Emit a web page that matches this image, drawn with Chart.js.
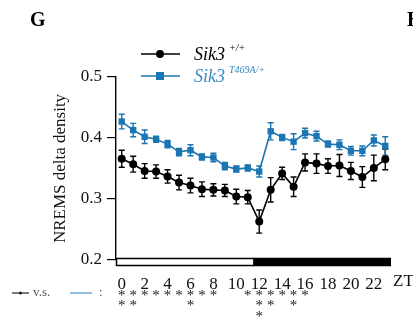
<!DOCTYPE html>
<html>
<head>
<meta charset="utf-8">
<script src="https://cdn.jsdelivr.net/npm/chart.js@4.4.1/dist/chart.umd.min.js"></script>
<style>
  html, body { margin: 0; padding: 0; background: #fff; }
  #wrap { width: 413px; height: 320px; position: relative; }
</style>
</head>
<body>
<div id="wrap"><canvas id="chart"></canvas></div>
<script>
// hourly bins (ZT), points sit at the middle of each bin
const hours = [0, 1, 2, 3, 4, 5, 6, 7, 8, 9, 10, 11, 12, 13, 14, 15, 16, 17, 18, 19, 20, 21, 22, 23]
const tickHours = [0, 2, 4, 6, 8, 10, 12, 14, 16, 18, 20, 22]
const yTicks = [0.2, 0.3, 0.4, 0.5]

const wtMean = [0.366, 0.357, 0.346, 0.345, 0.337, 0.327, 0.322, 0.316, 0.315, 0.314, 0.304, 0.303,
                0.263, 0.315, 0.342, 0.320, 0.360, 0.358, 0.354, 0.355, 0.346, 0.336, 0.351, 0.365]
const wtErr = [0.014, 0.013, 0.012, 0.011, 0.011, 0.012, 0.012, 0.012, 0.010, 0.010, 0.012, 0.011,
               0.019, 0.020, 0.010, 0.016, 0.014, 0.016, 0.012, 0.018, 0.014, 0.017, 0.021, 0.017]
const mutMean = [0.427, 0.413, 0.402, 0.398, 0.390, 0.377, 0.380, 0.369, 0.368, 0.354, 0.349, 0.351,
                 0.345, 0.411, 0.401, 0.394, 0.408, 0.403, 0.390, 0.389, 0.379, 0.379, 0.396, 0.387]
const mutErr = [0.012, 0.011, 0.011, 0.005, 0.006, 0.006, 0.009, 0.005, 0.007, 0.006, 0.005, 0.005,
                0.009, 0.014, 0.005, 0.013, 0.008, 0.008, 0.005, 0.008, 0.007, 0.008, 0.009, 0.015]
// number of asterisks under each ZT bin (wt vs mutant)
const starCounts = [2, 2, 1, 1, 1, 1, 2, 1, 1, 0, 0, 1, 3, 2, 1, 2, 1, 0, 0, 0, 0, 0, 0, 0]

const BLUE = "#1b75b1"
const SERIF = "'Liberation Serif', 'DejaVu Serif', serif"

const series = [
  { label: "wt", mean: wtMean, err: wtErr, color: "#000000", style: "circle", radius: 4 },
  { label: "mut", mean: mutMean, err: mutErr, color: BLUE, style: "rect", radius: 4.5 }
]

// vertical SEM bars, drawn under the markers
const errorBars = {
  id: "errorBars",
  beforeDatasetsDraw(chart) {
    const { ctx, scales: { x, y } } = chart
    ctx.save()
    series.forEach((s) => {
      ctx.strokeStyle = s.color
      ctx.lineWidth = 1.4
      hours.forEach((h, i) => {
        const px = x.getPixelForValue(h + 0.5)
        const top = y.getPixelForValue(s.mean[i] + s.err[i])
        const bot = y.getPixelForValue(s.mean[i] - s.err[i])
        ctx.beginPath()
        ctx.moveTo(px, top); ctx.lineTo(px, bot)
        ctx.moveTo(px - 3, top); ctx.lineTo(px + 3, top)
        ctx.moveTo(px - 3, bot); ctx.lineTo(px + 3, bot)
        ctx.stroke()
      })
    })
    ctx.restore()
  }
}

// light/dark bar, ZT label, legend, asterisks and panel letters
const decorations = {
  id: "decorations",
  afterDraw(chart) {
    const { ctx, scales: { x, y } } = chart
    ctx.save()

    // light / dark phase bar along the x axis
    const y0 = y.getPixelForValue(0.2) - 1.5
    const xs = x.getPixelForValue(0), xm = x.getPixelForValue(12), xe = x.getPixelForValue(24)
    ctx.fillStyle = "#fff"
    ctx.fillRect(xs, y0, xm - xs, 7)
    ctx.strokeStyle = "#000"
    ctx.lineWidth = 1.5
    ctx.strokeRect(xs + 0.5, y0, xm - xs, 7)
    ctx.fillStyle = "#000"
    ctx.fillRect(xm, y0 - 0.75, xe - xm, 8.5)

    ctx.fillStyle = "#111"
    ctx.font = `17px ${SERIF}`
    ctx.textAlign = "left"
    ctx.textBaseline = "middle"
    ctx.fillText("ZT", xe + 2, 282)

    // asterisks
    ctx.font = `15px ${SERIF}`
    ctx.textAlign = "center"
    ctx.textBaseline = "middle"
    ctx.fillStyle = "#222"
    hours.forEach((h, i) => {
      for (let k = 0; k < starCounts[i]; k++) {
        ctx.fillText("*", x.getPixelForValue(h + 0.5), 296 + k * 10.5)
      }
    })

    // comparison key at the bottom left
    ctx.strokeStyle = "#222"
    ctx.lineWidth = 1.2
    ctx.beginPath(); ctx.moveTo(12, 293); ctx.lineTo(29, 293); ctx.stroke()
    ctx.fillStyle = "#222"
    ctx.beginPath(); ctx.arc(20.5, 293, 1.6, 0, Math.PI * 2); ctx.fill()
    ctx.fillStyle = "#555"
    ctx.font = `13px ${SERIF}`
    ctx.textAlign = "left"
    ctx.fillText("v.s.", 33, 293)
    ctx.strokeStyle = "#4a93c6"
    ctx.beginPath(); ctx.moveTo(70, 293); ctx.lineTo(92, 293); ctx.stroke()
    ctx.fillStyle = "#555"
    ctx.fillText(":", 99, 293)

    // series legend
    const rows = [
      { s: series[0], y: 54, text: "Sik3", sup: "+/+", color: "#000" },
      { s: series[1], y: 76, text: "Sik3", sup: "T469A/+", color: "#3a8cc4" }
    ]
    rows.forEach((r) => {
      ctx.strokeStyle = r.s.color
      ctx.lineWidth = 1.6
      ctx.beginPath(); ctx.moveTo(141, r.y); ctx.lineTo(180, r.y); ctx.stroke()
      ctx.fillStyle = r.s.color
      if (r.s.style === "circle") {
        ctx.beginPath(); ctx.arc(160, r.y, 4, 0, Math.PI * 2); ctx.fill()
      } else {
        ctx.fillRect(156, r.y - 4, 8, 8)
      }
      ctx.fillStyle = r.color
      ctx.font = `italic 18px ${SERIF}`
      ctx.textAlign = "left"
      ctx.textBaseline = "middle"
      ctx.fillText(r.text, 194, r.y + 1)
      ctx.font = `italic 10px ${SERIF}`
      ctx.fillText(r.sup, 229, r.y - 6)
    })

    // panel letters
    ctx.fillStyle = "#000"
    ctx.font = `bold 20px ${SERIF}`
    ctx.textAlign = "left"
    ctx.fillText("G", 30, 21)
    ctx.fillText("H", 407, 21)

    ctx.restore()
  }
}

new Chart(document.getElementById("chart"), {
  type: "line",
  data: {
    datasets: series.map((s) => ({
      label: s.label,
      data: hours.map((h, i) => ({ x: h + 0.5, y: s.mean[i] })),
      borderColor: s.color,
      backgroundColor: s.color,
      borderWidth: 1.6,
      pointStyle: s.style,
      pointRadius: s.radius,
      pointBorderWidth: 0,
      tension: 0
    }))
  },
  options: {
    responsive: true,
    maintainAspectRatio: false,
    animation: false,
    layout: { padding: { left: 50, top: 77, right: 22, bottom: 0 } },
    plugins: { legend: { display: false }, tooltip: { enabled: false } },
    scales: {
      x: {
        type: "linear",
        min: 0,
        max: 24,
        afterBuildTicks: (s) => { s.ticks = tickHours.map((h) => ({ value: h + 0.5 })) },
        ticks: {
          callback: (v) => String(v - 0.5),
          autoSkip: false,
          maxRotation: 0,
          padding: 6,
          color: "#111",
          font: { family: SERIF, size: 17 }
        },
        grid: { display: false },
        border: { display: false },
        afterFit: (s) => { s.height = 60 }
      },
      y: {
        min: 0.2,
        max: 0.5,
        afterBuildTicks: (s) => { s.ticks = yTicks.map((v) => ({ value: v })) },
        ticks: {
          callback: (v) => v.toFixed(1),
          padding: 5,
          color: "#111",
          font: { family: SERIF, size: 17 }
        },
        grid: { drawOnChartArea: false, tickLength: 9, color: "#000", lineWidth: 1.2 },
        border: { color: "#000", width: 1.4 },
        title: {
          display: true,
          text: "NREMS delta density",
          color: "#111",
          padding: 0,
          font: { family: SERIF, size: 17 }
        },
        afterFit: (s) => { s.width = 66 }
      }
    }
  },
  plugins: [errorBars, decorations]
})
</script>
</body>
</html>
